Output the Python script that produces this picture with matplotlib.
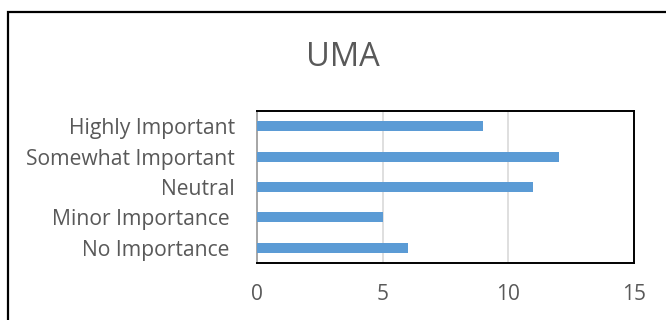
import matplotlib
matplotlib.use('Agg')
import matplotlib.pyplot as plt
from matplotlib.patches import Rectangle

# chart data
categories = ['Highly Important', 'Somewhat Important', 'Neutral',
              'Minor Importance ', 'No Importance ']
values = [9, 12, 11, 5, 6]
x_ticks = [0, 5, 10, 15]

plt.rcParams['font.family'] = ['Open Sans', 'DejaVu Sans']
text_color = '#595959'
bar_color = '#5b9bd5'

fig = plt.figure(figsize=(6.66, 3.2), dpi=100)
ax = fig.add_axes([257 / 666, 57 / 320, 377 / 666, 152 / 320])

pos = list(range(len(categories)))
ax.barh(pos, values, height=0.33, color=bar_color, zorder=3)
ax.set_ylim(len(categories) - 0.5, -0.5)
ax.set_xlim(0, 15)
ax.set_yticks(pos)
ax.set_yticklabels(categories)
ax.set_xticks(x_ticks)
ax.tick_params(axis='y', length=0, colors=text_color, labelsize=15.2, pad=16)
ax.tick_params(axis='x', length=0, colors=text_color, labelsize=15, pad=15)

ax.grid(axis='x', color='#d9d9d9', linewidth=1.2, zorder=0)
for side in ['top', 'right', 'bottom']:
    ax.spines[side].set_color('black')
    ax.spines[side].set_linewidth(1.4)
ax.spines['left'].set_color('#a6a6a6')
ax.spines['left'].set_linewidth(1.4)

fig.text(343 / 666, 1 - 57 / 320, 'UMA', ha='center', va='center',
         fontsize=23.5, color=text_color)

# outer border of the chart (cut off on the right and bottom)
fig.patches.append(Rectangle((8 / 666, -0.2), 1.2, 1 - 12 / 320 + 0.2,
                             transform=fig.transFigure, fill=False,
                             edgecolor='black', linewidth=1.6))

fig.savefig('out.png', dpi=100)
